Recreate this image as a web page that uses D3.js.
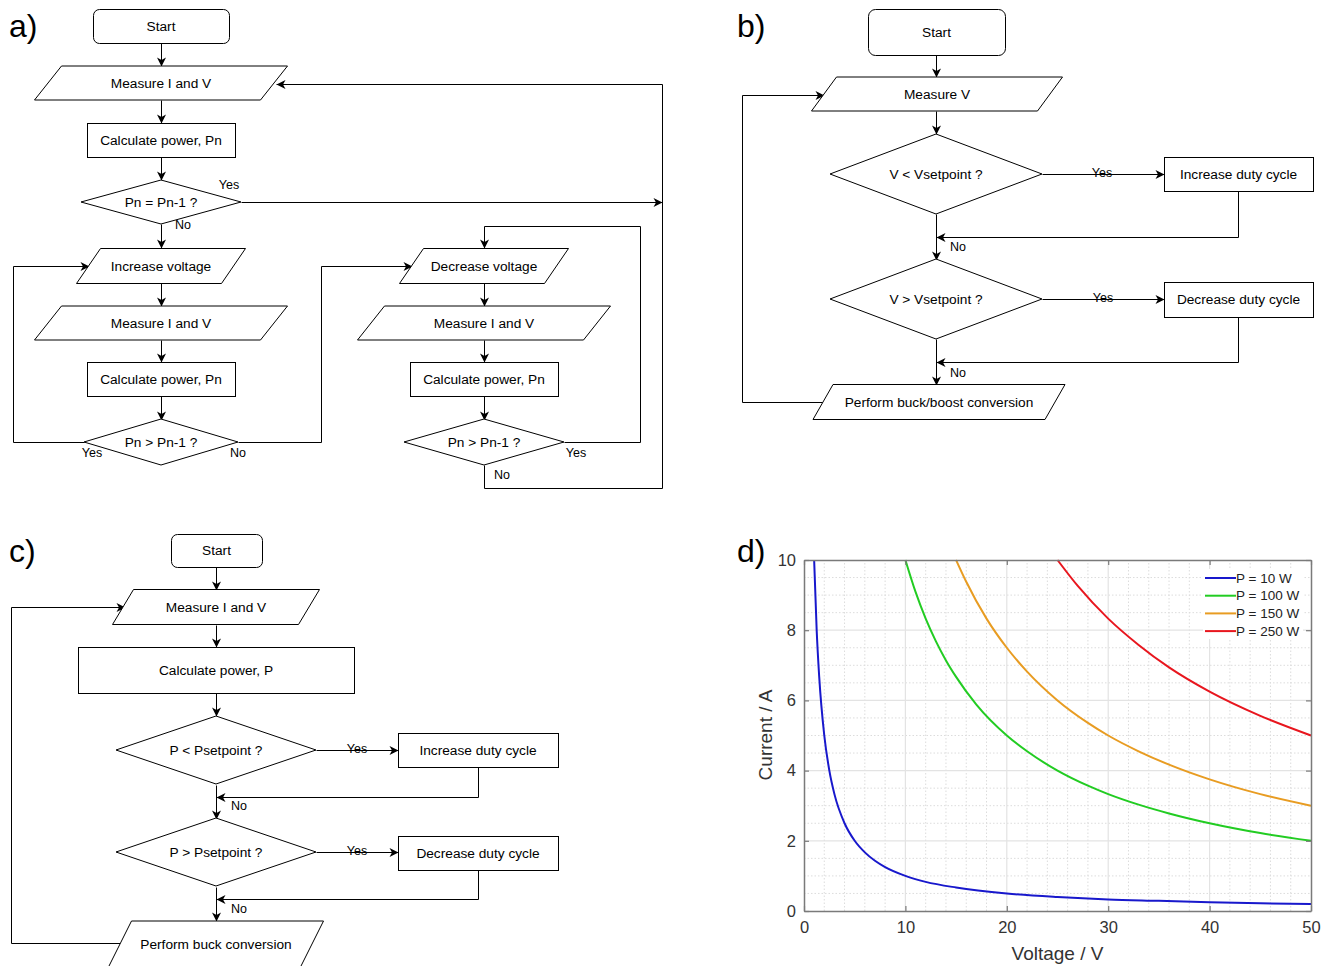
<!DOCTYPE html>
<html>
<head>
<meta charset="utf-8">
<script src="https://cdn.jsdelivr.net/npm/d3@7"></script>
<style>
  html, body { margin: 0; padding: 0; background: #fff; }
  svg { display: block; }
  text { font-family: "Liberation Sans", Arial, Helvetica, sans-serif; }
</style>
</head>
<body>
<svg id="fig" width="1325" height="966"></svg>
<script>
// ---------------- DATA ----------------
const panelLabels = ["a)", "b)", "c)", "d)"];

// flowchart node texts
const flowA = ["Start", "Measure I and V", "Calculate power, Pn", "Pn = Pn-1 ?",
  "Increase voltage", "Measure I and V", "Calculate power, Pn", "Pn > Pn-1 ?",
  "Decrease voltage", "Measure I and V", "Calculate power, Pn", "Pn > Pn-1 ?"];
const flowB = ["Start", "Measure V", "V < Vsetpoint ?", "Increase duty cycle",
  "V > Vsetpoint ?", "Decrease duty cycle", "Perform buck/boost conversion"];
const flowC = ["Start", "Measure I and V", "Calculate power, P", "P < Psetpoint ?",
  "Increase duty cycle", "P > Psetpoint ?", "Decrease duty cycle", "Perform buck conversion"];
const yesLabel = "Yes", noLabel = "No";

// chart d
const seriesNames = ["P = 10 W", "P = 100 W", "P = 150 W", "P = 250 W"];
const seriesColors = ["#1818cc", "#22cc22", "#e89c22", "#e8161e"];
const voltage10  = [1, 1.25, 1.5, 2, 2.5, 3, 4, 5, 6, 7, 8, 10, 12, 15, 20, 25, 30, 35, 40, 45, 50];
const current10  = [10, 8, 6.67, 5, 4, 3.33, 2.5, 2, 1.67, 1.43, 1.25, 1, 0.83, 0.67, 0.5, 0.4, 0.33, 0.29, 0.25, 0.22, 0.2];
const voltage100 = [10, 11, 12, 13, 14, 15, 17, 20, 22, 25, 28, 30, 33, 36, 40, 45, 50];
const current100 = [10, 9.09, 8.33, 7.69, 7.14, 6.67, 5.88, 5, 4.55, 4, 3.57, 3.33, 3.03, 2.78, 2.5, 2.22, 2];
const voltage150 = [15, 16, 18, 20, 22, 25, 28, 30, 33, 36, 40, 45, 50];
const current150 = [10, 9.38, 8.33, 7.5, 6.82, 6, 5.36, 5, 4.55, 4.17, 3.75, 3.33, 3];
const voltage250 = [25, 27, 30, 33, 36, 40, 45, 50];
const current250 = [10, 9.26, 8.33, 7.58, 6.94, 6.25, 5.56, 5];
const xTicks = [0, 10, 20, 30, 40, 50];
const yTicks = [0, 2, 4, 6, 8, 10];
const xTitle = "Voltage / V", yTitle = "Current / A";

// ---------------- DRAWING ----------------
const svg = d3.select("#fig");
const FONT = "'Liberation Sans', Arial, Helvetica, sans-serif";
const NODE_FONT = 13.7, EDGE_FONT = 12.5;

svg.append("defs").append("marker")
  .attr("id", "arr").attr("viewBox", "-10 -5 10 10")
  .attr("refX", 0).attr("refY", 0)
  .attr("markerWidth", 10).attr("markerHeight", 10)
  .attr("markerUnits", "userSpaceOnUse")
  .attr("orient", "auto")
  .append("path").attr("d", "M0,0 L-9,-4.5 L-6.5,0 L-9,4.5 Z").attr("fill", "#000");

const fc = svg.append("g").attr("class", "flow");

function label(x, y, t, size = NODE_FONT, anchor = "middle") {
  fc.append("text").attr("x", x).attr("y", y).attr("text-anchor", anchor)
    .attr("dominant-baseline", "central").attr("font-size", size).attr("fill", "#000").text(t);
}
function rect(x1, y1, x2, y2, t, r = 0) {
  fc.append("rect").attr("x", x1 + 0.5).attr("y", y1 + 0.5).attr("width", x2 - x1).attr("height", y2 - y1)
    .attr("rx", r).attr("fill", "#fff").attr("stroke", "#000").attr("stroke-width", 1);
  label((x1 + x2) / 2, (y1 + y2) / 2, t);
}
function para(cx, cy, w, h, skew, t) {
  const y1 = cy - h / 2, y2 = cy + h / 2;
  const pts = [[cx - w / 2 + skew / 2, y1], [cx + w / 2 + skew / 2, y1], [cx + w / 2 - skew / 2, y2], [cx - w / 2 - skew / 2, y2]];
  fc.append("path").attr("d", d3.line()(pts) + "Z").attr("fill", "#fff").attr("stroke", "#000").attr("stroke-width", 1);
  label(cx, cy, t);
}
function diamond(cx, cy, hw, hh, t) {
  const pts = [[cx - hw, cy], [cx, cy - hh], [cx + hw, cy], [cx, cy + hh]];
  fc.append("path").attr("d", d3.line()(pts) + "Z").attr("fill", "#fff").attr("stroke", "#000").attr("stroke-width", 1);
  label(cx, cy, t);
}
function wire(pts, arrow = true) {
  const p = pts.map(d => [Math.round(d[0]) + 0.5, Math.round(d[1]) + 0.5]);
  const path = fc.append("path").attr("d", d3.line()(p)).attr("fill", "none").attr("stroke", "#000").attr("stroke-width", 1);
  if (arrow) path.attr("marker-end", "url(#arr)");
}

// ---- Panel a ----
wire([[161, 43], [161, 66]]);
wire([[161, 100], [161, 123]]);
wire([[161, 157], [161, 180]]);
wire([[161, 224], [161, 248]]);
wire([[161, 283], [161, 306]]);
wire([[161, 340], [161, 362]]);
wire([[161, 396], [161, 420]]);
wire([[241, 202], [662, 202]]);
wire([[662, 488], [662, 84], [276, 84]]);
wire([[84, 442], [13, 442], [13, 266], [89, 266]]);
wire([[238, 442], [321, 442], [321, 266], [412, 266]]);
wire([[484, 283], [484, 306]]);
wire([[484, 340], [484, 362]]);
wire([[484, 396], [484, 420]]);
wire([[564, 442], [640, 442], [640, 226], [484, 226], [484, 248]]);
wire([[484, 465], [484, 488], [662, 488]], false);

rect(93, 9, 229, 43, flowA[0], 6);
para(161, 83, 226, 34, 27, flowA[1]);
rect(87, 123, 235, 157, flowA[2]);
diamond(161, 202, 80, 22, flowA[3]);
para(161, 266, 145, 35, 24, flowA[4]);
para(161, 323, 226, 34, 27, flowA[5]);
rect(87, 362, 235, 396, flowA[6]);
diamond(161, 442, 77, 23, flowA[7]);
para(484, 266, 145, 35, 24, flowA[8]);
para(484, 323, 226, 34, 27, flowA[9]);
rect(410, 362, 558, 396, flowA[10]);
diamond(484, 442, 80, 23, flowA[11]);
label(229, 185, yesLabel, EDGE_FONT);
label(183, 225, noLabel, EDGE_FONT);
label(92, 453, yesLabel, EDGE_FONT);
label(238, 453, noLabel, EDGE_FONT);
label(576, 453, yesLabel, EDGE_FONT);
label(502, 475, noLabel, EDGE_FONT);

// ---- Panel b ----
wire([[936, 55], [936, 77]]);
wire([[936, 111], [936, 134]]);
wire([[1042, 174], [1164, 174]]);
wire([[1238, 191], [1238, 237], [936, 237]]);
wire([[936, 214], [936, 260]]);
wire([[1042, 299], [1164, 299]]);
wire([[1238, 317], [1238, 362], [936, 362]]);
wire([[936, 339], [936, 385]]);
wire([[823, 402], [742, 402], [742, 95], [824, 95]]);

rect(868, 9, 1005, 55, flowB[0], 7);
para(937, 94, 226, 34, 25, flowB[1]);
diamond(936, 174, 106, 40, flowB[2]);
rect(1164, 157, 1313, 191, flowB[3]);
diamond(936, 299, 106, 40, flowB[4]);
rect(1164, 282, 1313, 317, flowB[5]);
para(939, 402, 232, 35, 20, flowB[6]);
label(1102, 173, yesLabel, EDGE_FONT);
label(1103, 298, yesLabel, EDGE_FONT);
label(958, 247, noLabel, EDGE_FONT);
label(958, 373, noLabel, EDGE_FONT);

// ---- Panel c ----
wire([[216, 567], [216, 590]]);
wire([[216, 625], [216, 647]]);
wire([[216, 693], [216, 716]]);
wire([[316, 750], [398, 750]]);
wire([[478, 767], [478, 797], [216, 797]]);
wire([[216, 785], [216, 819]]);
wire([[316, 852], [398, 852]]);
wire([[478, 870], [478, 899], [216, 899]]);
wire([[216, 887], [216, 921]]);
wire([[120, 943], [11, 943], [11, 607], [125, 607]]);

rect(171, 534, 262, 567, flowC[0], 6);
para(216, 607, 186, 35, 21, flowC[1]);
rect(78, 647, 354, 693, flowC[2]);
diamond(216, 750, 100, 34, flowC[3]);
rect(398, 733, 558, 767, flowC[4]);
diamond(216, 852, 100, 34, flowC[5]);
rect(398, 836, 558, 870, flowC[6]);
para(216, 944, 192, 46, 23, flowC[7]);
label(357, 749, yesLabel, EDGE_FONT);
label(357, 851, yesLabel, EDGE_FONT);
label(239, 806, noLabel, EDGE_FONT);
label(239, 909, noLabel, EDGE_FONT);

// ---- Panel labels ----
const lblPos = [[9, 37], [737, 37], [9, 562], [737, 562]];
panelLabels.forEach((t, i) => {
  svg.append("text").attr("x", lblPos[i][0]).attr("y", lblPos[i][1]).attr("font-size", 32)
    .attr("fill", "#000").text(t);
});

// ---- Panel d chart ----
const X0 = 804, X1 = 1311, Y0 = 911, Y1 = 560;
const x = d3.scaleLinear().domain([0, 50]).range([X0, X1]);
const y = d3.scaleLinear().domain([0, 10]).range([Y0, Y1]);
const ch = svg.append("g");

// minor grid (dotted)
const xMinor = d3.range(0, 51, 2).filter(v => v % 10 !== 0);
const yMinor = d3.range(0, 10.01, 0.5).filter(v => v % 2 !== 0);
ch.append("g").selectAll("line").data(xMinor).join("line")
  .attr("x1", d => x(d)).attr("x2", d => x(d)).attr("y1", Y0).attr("y2", Y1)
  .attr("stroke", "#dcdcdc").attr("stroke-width", 1).attr("stroke-dasharray", "1.5,2");
ch.append("g").selectAll("line").data(yMinor).join("line")
  .attr("y1", d => y(d)).attr("y2", d => y(d)).attr("x1", X0).attr("x2", X1)
  .attr("stroke", "#dcdcdc").attr("stroke-width", 1).attr("stroke-dasharray", "1.5,2");
// major grid
ch.append("g").selectAll("line").data(xTicks.slice(1, -1)).join("line")
  .attr("x1", d => x(d)).attr("x2", d => x(d)).attr("y1", Y0).attr("y2", Y1)
  .attr("stroke", "#e3e3e3").attr("stroke-width", 1.2);
ch.append("g").selectAll("line").data(yTicks.slice(1, -1)).join("line")
  .attr("y1", d => y(d)).attr("y2", d => y(d)).attr("x1", X0).attr("x2", X1)
  .attr("stroke", "#e3e3e3").attr("stroke-width", 1.2);

// curves
const allV = [voltage10, voltage100, voltage150, voltage250];
const allI = [current10, current100, current150, current250];
const series = seriesNames.map((n, i) => ({ name: n, color: seriesColors[i], pts: allV[i].map((v, j) => [v, allI[i][j]]) }));
const lineGen = d3.line().x(d => x(d[0])).y(d => y(d[1])).curve(d3.curveMonotoneX);
ch.append("g").selectAll("path").data(series).join("path")
  .attr("d", d => lineGen(d.pts)).attr("fill", "none")
  .attr("stroke", d => d.color).attr("stroke-width", 2);

// axes with inward ticks on all sides
const axColor = "#7a7a7a";
const tickFont = 16.5;
const axB = ch.append("g").attr("transform", `translate(0,${Y0})`)
  .call(d3.axisBottom(x).tickValues(xTicks).tickSizeInner(-5).tickSizeOuter(0).tickPadding(10));
const axT = ch.append("g").attr("transform", `translate(0,${Y1})`)
  .call(d3.axisTop(x).tickValues(xTicks).tickSizeInner(-5).tickSizeOuter(0).tickFormat(""));
const axL = ch.append("g").attr("transform", `translate(${X0},0)`)
  .call(d3.axisLeft(y).tickValues(yTicks).tickSizeInner(-5).tickSizeOuter(0).tickPadding(8));
const axR = ch.append("g").attr("transform", `translate(${X1},0)`)
  .call(d3.axisRight(y).tickValues(yTicks).tickSizeInner(-5).tickSizeOuter(0).tickFormat(""));
[axB, axT, axL, axR].forEach(a => {
  a.select(".domain").attr("stroke", axColor).attr("stroke-width", 1.5);
  a.selectAll(".tick line").attr("stroke", axColor).attr("stroke-width", 1.2);
  a.selectAll("text").attr("font-size", tickFont).attr("fill", "#333").attr("font-family", FONT);
});

// axis titles
ch.append("text").attr("x", (X0 + X1) / 2).attr("y", 960).attr("text-anchor", "middle")
  .attr("font-size", 19).attr("fill", "#333").text(xTitle);
ch.append("text").attr("transform", `translate(772,${735}) rotate(-90)`).attr("text-anchor", "middle")
  .attr("font-size", 19).attr("fill", "#333").text(yTitle);

// legend
const lg = ch.append("g");
lg.append("rect").attr("x", 1203).attr("y", 569).attr("width", 100).attr("height", 70).attr("fill", "#fff");
series.forEach((s, i) => {
  const yy = 578 + i * 17.7;
  lg.append("line").attr("x1", 1205).attr("x2", 1236).attr("y1", yy).attr("y2", yy)
    .attr("stroke", s.color).attr("stroke-width", 2);
  lg.append("text").attr("x", 1236).attr("y", yy).attr("dominant-baseline", "central")
    .attr("font-size", 13.5).attr("fill", "#222").text(s.name);
});
</script>
</body>
</html>
